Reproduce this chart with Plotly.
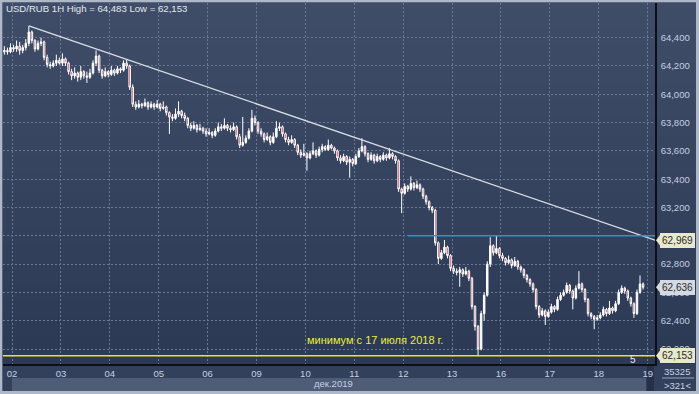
import plotly.graph_objects as go

# ---------------- data (USD/RUB, 1H candles, 29 Nov - 18 Dec 2019) ----------------
opens = [
    64.30, 64.31, 64.30, 64.33, 64.32, 64.34, 64.31, 64.33, 64.36, 64.44,
    64.38, 64.32, 64.36, 64.37, 64.26, 64.21, 64.20, 64.22, 64.24, 64.22,
    64.25, 64.22, 64.16, 64.13, 64.15, 64.12, 64.16, 64.13, 64.12, 64.15,
    64.22, 64.27, 64.17, 64.13, 64.16, 64.14, 64.17, 64.15, 64.18, 64.17,
    64.22, 64.20, 64.05, 63.93, 63.91, 63.93, 63.92, 63.94, 63.91, 63.93,
    63.91, 63.93, 63.90, 63.91, 63.87, 63.84, 63.83, 63.86, 63.88, 63.85,
    63.83, 63.78, 63.76, 63.78, 63.75, 63.76, 63.74, 63.72, 63.73, 63.71,
    63.74, 63.77, 63.76, 63.78, 63.76, 63.75, 63.77, 63.70, 63.64, 63.66,
    63.69, 63.74, 63.83, 63.80, 63.74, 63.72, 63.68, 63.70, 63.66, 63.70,
    63.76, 63.77, 63.72, 63.68, 63.66, 63.68, 63.64, 63.59, 63.57, 63.58,
    63.55, 63.58, 63.60, 63.57, 63.61, 63.63, 63.61, 63.64, 63.62, 63.60,
    63.55, 63.53, 63.56, 63.52, 63.54, 63.51, 63.56, 63.60, 63.63, 63.58,
    63.54, 63.57, 63.53, 63.56, 63.54, 63.57, 63.55, 63.58, 63.56, 63.53,
    63.33, 63.30, 63.35, 63.33, 63.37, 63.34, 63.36, 63.33, 63.28, 63.24,
    63.20, 63.18, 62.95, 62.84, 62.88, 62.92, 62.86, 62.77, 62.75, 62.74,
    62.76, 62.73, 62.75, 62.70, 62.50, 62.36, 62.20, 62.45, 62.58, 62.80,
    62.93, 62.88, 62.91, 62.86, 62.84, 62.81, 62.83, 62.79, 62.82, 62.78,
    62.76, 62.72, 62.69, 62.66, 62.62, 62.50, 62.44, 62.47, 62.43, 62.46,
    62.50, 62.48, 62.55, 62.58, 62.60, 62.65, 62.61, 62.56, 62.63, 62.66,
    62.62, 62.55, 62.45, 62.43, 62.41, 62.42, 62.44, 62.48, 62.45, 62.49,
    62.47, 62.52, 62.60, 62.63, 62.61, 62.56, 62.52, 62.45, 62.60, 62.66,
]
highs = [
    64.34, 64.33, 64.36, 64.35, 64.38, 64.37, 64.35, 64.39, 64.483, 64.45,
    64.39, 64.38, 64.40, 64.38, 64.28, 64.23, 64.24, 64.28, 64.26, 64.29,
    64.26, 64.23, 64.18, 64.19, 64.16, 64.20, 64.17, 64.16, 64.18, 64.24,
    64.31, 64.28, 64.18, 64.19, 64.17, 64.20, 64.18, 64.20, 64.19, 64.24,
    64.245, 64.21, 64.07, 63.95, 63.96, 63.94, 63.97, 63.95, 63.95, 63.94,
    63.96, 63.94, 63.95, 63.92, 63.88, 63.86, 63.90, 63.95, 63.89, 63.87,
    63.84, 63.80, 63.81, 63.79, 63.79, 63.77, 63.76, 63.76, 63.74, 63.76,
    63.80, 63.79, 63.83, 63.79, 63.78, 63.80, 63.78, 63.72, 63.84, 63.71,
    63.76, 63.89, 63.85, 63.81, 63.76, 63.73, 63.73, 63.71, 63.73, 63.81,
    63.80, 63.78, 63.73, 63.70, 63.71, 63.69, 63.65, 63.61, 63.65, 63.59,
    63.60, 63.66, 63.61, 63.63, 63.65, 63.64, 63.68, 63.65, 63.63, 63.61,
    63.57, 63.58, 63.57, 63.56, 63.55, 63.58, 63.62, 63.69, 63.64, 63.59,
    63.59, 63.58, 63.58, 63.57, 63.59, 63.58, 63.62, 63.59, 63.57, 63.54,
    63.34, 63.37, 63.36, 63.42, 63.38, 63.39, 63.37, 63.34, 63.29, 63.25,
    63.21, 63.19, 62.96, 62.90, 62.97, 62.93, 62.87, 62.79, 62.77, 62.78,
    62.77, 62.78, 62.76, 62.71, 62.51, 62.37, 62.47, 62.60, 62.82, 62.99,
    62.94, 63.00, 62.92, 62.88, 62.85, 62.86, 62.84, 62.85, 62.83, 62.79,
    62.77, 62.73, 62.70, 62.67, 62.63, 62.51, 62.49, 62.48, 62.48, 62.52,
    62.51, 62.57, 62.60, 62.62, 62.67, 62.66, 62.62, 62.65, 62.75, 62.67,
    62.63, 62.56, 62.46, 62.44, 62.44, 62.46, 62.50, 62.49, 62.54, 62.50,
    62.54, 62.62, 62.65, 62.64, 62.62, 62.57, 62.53, 62.62, 62.72, 62.67,
]
lows = [
    64.28, 64.28, 64.29, 64.30, 64.30, 64.28, 64.29, 64.31, 64.34, 64.36,
    64.30, 64.31, 64.34, 64.24, 64.19, 64.18, 64.19, 64.20, 64.21, 64.20,
    64.20, 64.14, 64.10, 64.11, 64.09, 64.10, 64.11, 64.08, 64.11, 64.14,
    64.20, 64.15, 64.11, 64.12, 64.12, 64.13, 64.13, 64.14, 64.15, 64.16,
    64.18, 64.03, 63.91, 63.89, 63.90, 63.90, 63.91, 63.89, 63.90, 63.89,
    63.90, 63.88, 63.89, 63.85, 63.72, 63.81, 63.82, 63.84, 63.83, 63.81,
    63.76, 63.74, 63.75, 63.73, 63.74, 63.72, 63.70, 63.71, 63.69, 63.70,
    63.73, 63.74, 63.75, 63.74, 63.73, 63.74, 63.68, 63.62, 63.63, 63.65,
    63.68, 63.73, 63.78, 63.72, 63.70, 63.66, 63.67, 63.64, 63.65, 63.69,
    63.74, 63.70, 63.66, 63.64, 63.65, 63.62, 63.57, 63.55, 63.56, 63.46,
    63.54, 63.57, 63.55, 63.56, 63.59, 63.60, 63.60, 63.61, 63.58, 63.53,
    63.51, 63.52, 63.50, 63.41, 63.49, 63.50, 63.55, 63.59, 63.56, 63.52,
    63.53, 63.51, 63.52, 63.52, 63.53, 63.53, 63.54, 63.54, 63.51, 63.31,
    63.16, 63.29, 63.31, 63.32, 63.32, 63.33, 63.31, 63.26, 63.22, 63.18,
    63.16, 62.93, 62.80, 62.83, 62.87, 62.84, 62.75, 62.73, 62.72, 62.64,
    62.71, 62.72, 62.68, 62.48, 62.33, 62.153, 62.19, 62.40, 62.57, 62.78,
    62.86, 62.87, 62.84, 62.82, 62.79, 62.80, 62.77, 62.78, 62.76, 62.74,
    62.70, 62.67, 62.64, 62.60, 62.48, 62.42, 62.43, 62.37, 62.42, 62.45,
    62.46, 62.47, 62.54, 62.57, 62.59, 62.59, 62.48, 62.55, 62.62, 62.60,
    62.53, 62.43, 62.41, 62.34, 62.40, 62.41, 62.43, 62.43, 62.44, 62.45,
    62.46, 62.51, 62.59, 62.59, 62.54, 62.50, 62.42, 62.44, 62.59, 62.62,
]
closes = [
    64.31, 64.30, 64.33, 64.32, 64.34, 64.31, 64.33, 64.36, 64.44, 64.38,
    64.32, 64.36, 64.37, 64.26, 64.21, 64.20, 64.22, 64.24, 64.22, 64.25,
    64.22, 64.16, 64.13, 64.15, 64.12, 64.16, 64.13, 64.12, 64.15, 64.22,
    64.27, 64.17, 64.13, 64.16, 64.14, 64.17, 64.15, 64.18, 64.17, 64.22,
    64.20, 64.05, 63.93, 63.91, 63.93, 63.92, 63.94, 63.91, 63.93, 63.91,
    63.93, 63.90, 63.91, 63.87, 63.84, 63.83, 63.86, 63.88, 63.85, 63.83,
    63.78, 63.76, 63.78, 63.75, 63.76, 63.74, 63.72, 63.73, 63.71, 63.74,
    63.77, 63.76, 63.78, 63.76, 63.75, 63.77, 63.70, 63.64, 63.66, 63.69,
    63.74, 63.83, 63.80, 63.74, 63.72, 63.68, 63.70, 63.66, 63.70, 63.76,
    63.77, 63.72, 63.68, 63.66, 63.68, 63.64, 63.59, 63.57, 63.58, 63.55,
    63.58, 63.60, 63.57, 63.61, 63.63, 63.61, 63.64, 63.62, 63.60, 63.55,
    63.53, 63.56, 63.52, 63.54, 63.51, 63.56, 63.60, 63.63, 63.58, 63.54,
    63.57, 63.53, 63.56, 63.54, 63.57, 63.55, 63.58, 63.56, 63.53, 63.33,
    63.30, 63.35, 63.33, 63.37, 63.34, 63.36, 63.33, 63.28, 63.24, 63.20,
    63.18, 62.95, 62.84, 62.88, 62.92, 62.86, 62.77, 62.75, 62.74, 62.76,
    62.73, 62.75, 62.70, 62.50, 62.36, 62.20, 62.45, 62.58, 62.80, 62.93,
    62.88, 62.91, 62.86, 62.84, 62.81, 62.83, 62.79, 62.82, 62.78, 62.76,
    62.72, 62.69, 62.66, 62.62, 62.50, 62.44, 62.47, 62.43, 62.46, 62.50,
    62.48, 62.55, 62.58, 62.60, 62.65, 62.61, 62.56, 62.63, 62.66, 62.62,
    62.55, 62.45, 62.43, 62.41, 62.42, 62.44, 62.48, 62.45, 62.49, 62.47,
    62.52, 62.60, 62.63, 62.61, 62.56, 62.52, 62.45, 62.60, 62.66, 62.636,
]

day_labels = ["02", "03", "04", "05", "06", "09", "10", "11", "12", "13", "16", "17", "18", "19"]
candles_per_day = 16
first_day_offset = 3          # candles of 29 Nov before the first label
y_ticks = [62.2, 62.4, 62.6, 62.8, 63.0, 63.2, 63.4, 63.6, 63.8, 64.0, 64.2, 64.4]
hidden_tick = 63.0            # fully covered by the 62,969 price tag in the source

period_high = 64.483
period_low = 62.153
trend_end_value = 62.969
last_value = 62.636
resistance_level = 63.0
trend_start_index = 8
resistance_start_index = 132
header_text = "USD/RUB 1H High = 64,483 Low = 62,153"
note_text = "минимум с 17 июля 2018 г."
month_text = "дек.2019"
volume_text = "35325"
scroll_text = "&gt;321&lt;"
marker_text = "5"

# ---------------- geometry helpers (pixel -> paper) ----------------
W, H = 699, 394
PL, PR, PT, PB = 3, 655, 3, 364


def pxx(p):
    return (p - PL) / (PR - PL)


def pxy(p):
    return (PB - p) / (PB - PT)


def fmt(v):
    return f"{v:.3f}".replace(".", ",")


xs = list(range(len(closes)))
day_pos = [first_day_offset - 0.5 + candles_per_day * k for k in range(len(day_labels))]
x_range = [-0.45, 212.9]
y_range = [62.094, 64.645]

fig = go.Figure()
fig.add_trace(go.Candlestick(
    x=xs, open=opens, high=highs, low=lows, close=closes,
    increasing=dict(line=dict(color="#ffffff", width=1), fillcolor="#ffffff"),
    decreasing=dict(line=dict(color="#ffffff", width=1), fillcolor="#c41e3a"),
    whiskerwidth=0,
    hoverinfo="skip",
    showlegend=False,
))

shapes = []
# background gradient
n = 40
top_c = (64, 77, 105)
bot_c = (44, 57, 85)
for k in range(n):
    t = k / (n - 1)
    c = tuple(int(round(top_c[j] + (bot_c[j] - top_c[j]) * t)) for j in range(3))
    y0 = 0 + k * (PB / n)
    y1 = y0 + PB / n + 0.6
    shapes.append(dict(type="rect", xref="paper", yref="paper",
                       x0=pxx(0), x1=pxx(W), y0=pxy(y1), y1=pxy(y0),
                       fillcolor=f"rgb{c}", line=dict(width=0), layer="below"))
# bottom label strip and lighter band
shapes.append(dict(type="rect", xref="paper", yref="paper", x0=pxx(0), x1=pxx(W),
                   y0=pxy(H), y1=pxy(PB), fillcolor="#33405b", line=dict(width=0), layer="below"))
shapes.append(dict(type="rect", xref="paper", yref="paper", x0=pxx(12), x1=pxx(646),
                   y0=pxy(391), y1=pxy(378), fillcolor="#4e5c78", line=dict(width=0), layer="below"))
shapes.append(dict(type="rect", xref="paper", yref="paper", x0=pxx(647), x1=pxx(654),
                   y0=pxy(391), y1=pxy(365), fillcolor="#26304a", line=dict(width=0), layer="below"))
# right panel divider under volume figure
shapes.append(dict(type="line", xref="paper", yref="paper", x0=pxx(662), x1=pxx(694),
                   y0=pxy(378), y1=pxy(378), line=dict(color="#9aa6bb", width=1)))

# trend line, resistance, low
shapes.append(dict(type="line", xref="x", yref="y", x0=trend_start_index, y0=period_high,
                   x1=x_range[1], y1=trend_end_value, line=dict(color="#dcdfe6", width=1.3)))
shapes.append(dict(type="line", xref="x", yref="y", x0=resistance_start_index, y0=resistance_level,
                   x1=x_range[1], y1=resistance_level, line=dict(color="#2f8fd0", width=1.5)))
shapes.append(dict(type="line", xref="x", yref="y", x0=x_range[0], y0=period_low,
                   x1=x_range[1], y1=period_low, line=dict(color="#e6e62a", width=1.5)))

# price tag arrows
tag_specs = [(trend_end_value, "#e8e8cc"), (last_value, "#d5dae2"), (period_low, "#e8e8cc")]
annotations = []
y_span = y_range[1] - y_range[0]
for val, col in tag_specs:
    yp = (val - y_range[0]) / y_span
    h = 6.5 / (PB - PT)
    shapes.append(dict(type="path", xref="paper", yref="paper",
                       path=f"M {pxx(656)} {yp} L {pxx(661)} {yp + h} L {pxx(661)} {yp - h} Z",
                       fillcolor=col, line=dict(width=0), layer="above"))
    annotations.append(dict(xref="paper", yref="y", x=pxx(660), y=val, xanchor="left", yanchor="middle",
                            text=fmt(val), showarrow=False, bgcolor=col, bordercolor=col,
                            borderpad=1, font=dict(family="Liberation Sans, Arial", size=10, color="#2a2a2a")))

# outer light frame
frame = "#aeb8c9"
shapes += [
    dict(type="rect", xref="paper", yref="paper", x0=pxx(0), x1=pxx(W), y0=pxy(2.3), y1=pxy(0),
         fillcolor=frame, line=dict(width=0), layer="above"),
    dict(type="rect", xref="paper", yref="paper", x0=pxx(0), x1=pxx(2.3), y0=pxy(H), y1=pxy(0),
         fillcolor=frame, line=dict(width=0), layer="above"),
    dict(type="rect", xref="paper", yref="paper", x0=pxx(W - 3), x1=pxx(W), y0=pxy(H), y1=pxy(0),
         fillcolor=frame, line=dict(width=0), layer="above"),
    dict(type="rect", xref="paper", yref="paper", x0=pxx(0), x1=pxx(W), y0=pxy(H), y1=pxy(391),
         fillcolor=frame, line=dict(width=0), layer="above"),
]

font_main = "Liberation Sans, Arial"
tick_col = "#c6cfe0"
annotations += [
    dict(xref="paper", yref="paper", x=pxx(4), y=pxy(8.5), xanchor="left", yanchor="middle",
         text=header_text, showarrow=False, font=dict(family=font_main, size=9.6, color="#e4e8ee")),
    dict(xref="x", yref="y", x=121.3, y=62.264, xanchor="center", yanchor="middle",
         text=note_text, showarrow=False, font=dict(family=font_main, size=11, color="#ecec3a")),
    dict(xref="paper", yref="paper", x=pxx(334), y=pxy(384), xanchor="center", yanchor="middle",
         text=month_text, showarrow=False, font=dict(family=font_main, size=9.5, color=tick_col)),
    dict(xref="paper", yref="paper", x=pxx(633), y=pxy(359), xanchor="center", yanchor="middle",
         text=marker_text, showarrow=False, font=dict(family=font_main, size=10, color="#e4e8ee")),
    dict(xref="paper", yref="paper", x=pxx(677), y=pxy(371), xanchor="center", yanchor="middle",
         text=volume_text, showarrow=False, font=dict(family=font_main, size=9.5, color=tick_col)),
    dict(xref="paper", yref="paper", x=pxx(677), y=pxy(385), xanchor="center", yanchor="middle",
         text=scroll_text, showarrow=False, font=dict(family=font_main, size=9.5, color=tick_col)),
]

grid_col = "#6a7895"
fig.update_layout(
    width=W, height=H,
    margin=dict(l=PL, r=W - PR, t=PT, b=H - PB, pad=0),
    paper_bgcolor="#36435f",
    plot_bgcolor="rgba(0,0,0,0)",
    showlegend=False,
    shapes=shapes,
    annotations=annotations,
    xaxis=dict(
        range=x_range, rangeslider=dict(visible=False), fixedrange=True,
        tickmode="array", tickvals=day_pos, ticktext=day_labels,
        tickfont=dict(family=font_main, size=9.5, color=tick_col),
        showgrid=True, gridcolor=grid_col, gridwidth=1, griddash="2px,2px",
        showline=True, linecolor="#0c0f18", linewidth=1.5, ticks="", zeroline=False,
    ),
    yaxis=dict(
        range=y_range, side="right", fixedrange=True,
        tickmode="array", tickvals=y_ticks,
        ticktext=["" if v == hidden_tick else fmt(v) for v in y_ticks],
        tickfont=dict(family=font_main, size=9.5, color=tick_col),
        showgrid=True, gridcolor=grid_col, gridwidth=1, griddash="2px,2px",
        showline=True, linecolor="#0c0f18", linewidth=1.5, ticks="outside", ticklen=2,
        tickcolor="rgba(0,0,0,0)", zeroline=False,
    ),
)

fig.write_html("out.html", config={"displayModeBar": False},
               post_script="document.body.style.margin='0';document.body.style.overflow='hidden';")
